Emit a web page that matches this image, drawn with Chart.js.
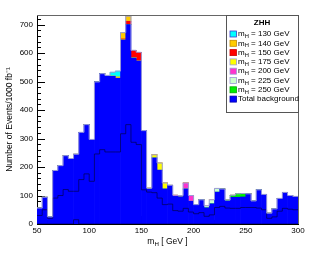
<!DOCTYPE html>
<html>
<head>
<meta charset="utf-8">
<script src="https://cdn.jsdelivr.net/npm/chart.js@4.4.1/dist/chart.umd.min.js"></script>
<style>
  html, body { margin: 0; padding: 0; background: #fff; }
</style>
</head>
<body>
<canvas id="zhhChart" width="327" height="262"></canvas>
<script>
// low edge of each 5 GeV bin in m_H
var binEdges = [50,55,60,65,70,75,80,85,90,95,
                100,105,110,115,120,125,130,135,140,145,
                150,155,160,165,170,175,180,185,190,195,
                200,205,210,215,220,225,230,235,240,245,
                250,255,260,265,270,275,280,285,290,295];
var binWidth = 5;

// total background (blue, bottom of stack)
var background = [56,94,25,188,205,240,230,245,322,349,
                  297,499,528,519,519,512,646,700,583,572,
                  328,123,232,189,123,136,97,95,123,80,
                  68,85,57,71,112,123,81,94,94,95,
                  106,81,120,104,38,53,90,111,100,97];

// ZHH signal for each Higgs mass, stacked on top
var sig250 = [0,0,0,0,0,0,0,0,0,0, 0,0,0,0,0,0,0,0,0,0, 0,0,0,0,0,0,0,0,0,0,
              0,0,0,0,0,0,3,7,12,12, 0,0,0,0,0,0,0,0,0,0];
var sig225 = [0,0,0,0,0,0,0,0,0,0, 0,0,0,0,0,0,0,0,0,0, 0,0,0,0,0,0,0,0,0,0,
              0,0,7,14,13,0,0,0,0,0, 0,0,0,0,0,0,0,0,0,0];
var sig200 = [0,0,0,0,0,0,0,0,0,0, 0,0,0,0,0,0,0,0,0,0, 0,0,0,0,0,0,4,5,21,20,
              0,0,0,0,0,0,0,0,0,0, 0,0,0,0,0,0,0,0,0,0];
var sig175 = [0,0,0,0,0,0,0,0,0,0, 0,0,0,0,0,0,0,0,0,0, 0,3,11,25,21,0,0,0,0,0,
              0,0,0,0,0,0,0,0,0,0, 0,0,0,0,0,0,0,0,0,0];
var sig150 = [0,0,0,0,0,0,0,0,0,0, 0,0,0,0,0,0,4,12,27,31, 0,0,0,0,0,0,0,0,0,0,
              0,0,0,0,0,0,0,0,0,0, 0,0,0,0,0,0,0,0,0,0];
var sig140 = [0,0,0,0,0,0,0,0,0,0, 0,0,0,0,0,5,22,18,0,0, 0,0,0,0,0,0,0,0,0,0,
              0,0,0,0,0,0,0,0,0,0, 0,0,0,0,0,0,0,0,0,0];
var sig130 = [0,0,0,0,0,0,0,0,0,0, 0,0,0,3,14,20,0,0,0,0, 0,0,0,0,0,0,0,0,0,0,
              0,0,0,0,0,0,0,0,0,0, 0,0,0,0,0,0,0,0,0,0];

// black outline histogram drawn inside the background
var bkgLine = [30,50,20,91,100,121,115,115,156,176,
               150,246,261,253,253,253,317,349,287,279,
               120,112,110,91,68,70,47,45,55,42,
               36,40,27,32,58,62,56,55,55,58,
               58,58,56,50,20,25,45,55,52,50];
var lowLine = [0,0,0,0,0,0,0,15,0,0, 0,0,0,0,0,0,0,0,0,0, 0,0,0,0,0,0,0,0,0,0,
               0,0,0,0,0,0,0,0,0,0, 0,0,0,0,0,0,0,0,0,0];

var yTicks = [0,100,200,300,400,500,600,700];
var xTicks = [50,100,150,200,250,300];

var legendTitle = 'ZHH';
var legendEntries = [
  { rest: ' = 130 GeV', color: '#00ffff', edge: '#3a3ad0' },
  { rest: ' = 140 GeV', color: '#ffcc00', edge: '#c08a00' },
  { rest: ' = 150 GeV', color: '#ff0000', edge: '#cc0000' },
  { rest: ' = 175 GeV', color: '#ffff00', edge: '#9a9ad8' },
  { rest: ' = 200 GeV', color: '#ff33cc', edge: '#9a9ad8' },
  { rest: ' = 225 GeV', color: '#ccffcc', edge: '#9a9ad8' },
  { rest: ' = 250 GeV', color: '#00ee00', edge: '#00aa00' },
  { rest: 'Total background', color: '#0000ff', edge: '#0000aa', plain: true }
];

var FONT = "'Liberation Sans', Arial, Helvetica, sans-serif";
Chart.defaults.font.family = FONT;
Chart.defaults.color = '#000';

function barData(vals) {
  return vals.map(function (v, i) {
    return { x: binEdges[i] + binWidth / 2, y: v };
  });
}

// points for a step outline: one per low edge, plus the last upper edge
function stepData(vals) {
  var pts = vals.map(function (v, i) { return { x: binEdges[i], y: v }; });
  pts.push({ x: binEdges[binEdges.length - 1] + binWidth, y: vals[vals.length - 1] });
  return pts;
}

var stackOrder = [
  { vals: background, color: '#0000ff' },
  { vals: sig250, color: '#00ee00' },
  { vals: sig225, color: '#ccffcc' },
  { vals: sig200, color: '#ff33cc' },
  { vals: sig175, color: '#ffff00' },
  { vals: sig150, color: '#ff0000' },
  { vals: sig140, color: '#ffcc00' },
  { vals: sig130, color: '#00ffff' }
];

var totals = background.map(function (v, i) {
  var t = 0;
  stackOrder.forEach(function (s) { t += s.vals[i]; });
  return t;
});

var datasets = stackOrder.map(function (s) {
  return {
    type: 'bar',
    data: barData(s.vals),
    backgroundColor: s.color,
    borderWidth: 0,
    barPercentage: 1,
    categoryPercentage: 1,
    stack: 'zhh',
    order: 3
  };
});
// 'before': horizontal at the previous value first, so each value covers [edge, next edge]
datasets.push({
  type: 'line', data: stepData(bkgLine), stepped: 'before',
  borderColor: '#000033', borderWidth: 0.6, pointRadius: 0, fill: false,
  yAxisID: 'yLine', order: 2
});
datasets.push({
  type: 'line', data: stepData(lowLine), stepped: 'before',
  borderColor: '#000033', borderWidth: 0.6, pointRadius: 0, fill: false,
  yAxisID: 'yLine', order: 2
});
datasets.push({
  type: 'line', data: stepData(totals), stepped: 'before',
  borderColor: '#9a9ad8', borderWidth: 1, pointRadius: 0, fill: false,
  yAxisID: 'yLine', order: 1
});

function drawMH(ctx, x, y, size, rest) {
  ctx.font = size + 'px ' + FONT;
  ctx.fillText('m', x, y);
  var w = ctx.measureText('m').width;
  ctx.font = (size * 0.72) + 'px ' + FONT;
  ctx.fillText('H', x + w, y + size * 0.32);
  var w2 = ctx.measureText('H').width;
  ctx.font = size + 'px ' + FONT;
  ctx.fillText(rest, x + w + w2, y);
  return w + w2 + ctx.measureText(rest).width;
}

var rootStyle = {
  id: 'rootStyle',
  beforeDatasetsDraw: function (chart) {
    var ctx = chart.ctx, a = chart.chartArea;
    var xs = chart.scales.x, ys = chart.scales.y;
    ctx.save();
    ctx.strokeStyle = '#000';
    ctx.lineWidth = 1;
    ctx.beginPath();
    // y ticks point into the frame
    for (var v = 0; v <= ys.max; v += 20) {
      var py = Math.round(ys.getPixelForValue(v)) + 0.5;
      var len = (v % 100 === 0) ? 8 : 4;
      ctx.moveTo(a.left, py);
      ctx.lineTo(a.left + len, py);
    }
    // x ticks point up
    for (var u = 50; u <= 300; u += 10) {
      var px = Math.round(xs.getPixelForValue(u)) + 0.5;
      var l2 = (u % 50 === 0) ? 8 : 4;
      ctx.moveTo(px, a.bottom);
      ctx.lineTo(px, a.bottom - l2);
    }
    ctx.stroke();
    ctx.restore();
  },
  afterDraw: function (chart) {
    var ctx = chart.ctx, a = chart.chartArea;
    ctx.save();
    // top and right frame
    ctx.strokeStyle = '#666';
    ctx.lineWidth = 1;
    ctx.beginPath();
    ctx.moveTo(a.left, a.top + 0.5);
    ctx.lineTo(a.right + 0.5, a.top + 0.5);
    ctx.lineTo(a.right + 0.5, a.bottom);
    ctx.stroke();

    // x axis title
    ctx.fillStyle = '#000';
    ctx.textBaseline = 'middle';
    ctx.textAlign = 'left';
    ctx.font = '8.5px ' + FONT;
    var wm = ctx.measureText('m').width;
    ctx.font = (8.5 * 0.72) + 'px ' + FONT;
    var wh = ctx.measureText('H').width;
    ctx.font = '8.5px ' + FONT;
    var wr = ctx.measureText(' [ GeV ]').width;
    var tw = wm + wh + wr;
    drawMH(ctx, (a.left + a.right) / 2 - tw / 2, 242, 8.5, ' [ GeV ]');

    // legend box
    var lx = 226, ly = 15, lw = a.right - 226, lh = 97;
    ctx.fillStyle = '#fff';
    ctx.fillRect(lx, ly, lw, lh);
    ctx.strokeStyle = '#555';
    ctx.strokeRect(lx + 0.5, ly + 0.5, lw, lh);
    ctx.fillStyle = '#000';
    ctx.font = 'bold 8px ' + FONT;
    ctx.textAlign = 'center';
    ctx.fillText(legendTitle, lx + lw / 2, 22.5);
    ctx.textAlign = 'left';
    legendEntries.forEach(function (e, i) {
      var cy = 34 + i * 9.3;
      ctx.fillStyle = e.color;
      ctx.fillRect(230, cy - 3, 6.5, 6);
      ctx.strokeStyle = e.edge;
      ctx.lineWidth = 0.8;
      ctx.strokeRect(230, cy - 3, 6.5, 6);
      ctx.fillStyle = '#000';
      if (e.plain) {
        ctx.font = '8px ' + FONT;
        ctx.fillText(e.rest, 238, cy);
      } else {
        drawMH(ctx, 238, cy, 8, e.rest);
      }
    });
    ctx.restore();
  }
};

new Chart('zhhChart', {
  data: { datasets: datasets },
  options: {
    responsive: false,
    animation: false,
    events: [],
    layout: { padding: { top: 15, right: 29, left: 0, bottom: 0 } },
    plugins: { legend: { display: false }, tooltip: { enabled: false } },
    scales: {
      x: {
        type: 'linear', min: 50, max: 300, offset: false, stacked: true,
        afterFit: function (s) { s.height = 38; },
        afterBuildTicks: function (s) { s.ticks = xTicks.map(function (v) { return { value: v }; }); },
        grid: { display: false, drawTicks: false },
        border: { display: true, color: '#000', width: 1 },
        ticks: { font: { size: 8 }, padding: 2, maxRotation: 0 }
      },
      y: {
        min: 0, max: 734, stacked: true,
        afterFit: function (s) { s.width = 37; },
        afterBuildTicks: function (s) { s.ticks = yTicks.map(function (v) { return { value: v }; }); },
        grid: { display: false, drawTicks: false },
        border: { display: true, color: '#000', width: 1 },
        ticks: { font: { size: 8 }, padding: 4 },
        title: {
          display: true, text: 'Number of Events/1000 fb\u207B\u00B9',
          font: { size: 8.5 }, padding: { top: 5, bottom: 0 }
        }
      },
      yLine: { min: 0, max: 734, display: false, stacked: false }
    }
  },
  plugins: [rootStyle]
});
</script>
</body>
</html>
